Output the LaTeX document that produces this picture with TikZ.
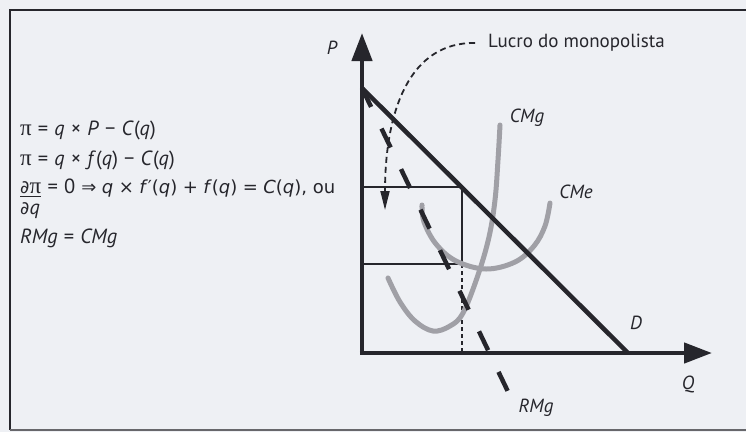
\documentclass[tikz,border=0pt]{standalone}
\usepackage{fontspec}
\setmainfont{PT Sans}
\newfontfamily\gk{Liberation Serif}
\newfontfamily\sym{DejaVu Sans}
\usetikzlibrary{arrows.meta}
\definecolor{bg}{RGB}{238,240,244}
\definecolor{ink}{RGB}{38,38,44}
\definecolor{curvegray}{RGB}{160,160,166}
\newcommand\myop[1]{\hspace{0.3em}#1\hspace{0.3em}}
\begin{document}
\begin{tikzpicture}[x=1pt,y=-1pt,
  lbl/.style={font=\fontsize{19}{22}\selectfont\itshape, text=ink, inner sep=0pt},
  eq/.style={font=\fontsize{20.5}{24}\selectfont, text=ink, inner sep=0pt, anchor=base west},
  axisline/.style={line width=4.5pt, draw=ink, -{Triangle[width=20pt,length=28pt]}},
  thickline/.style={line width=4.5pt, draw=ink},
  thinline/.style={line width=1.4pt, draw=ink},
  costcurve/.style={line width=5pt, draw=curvegray, line cap=round}]
\useasboundingbox (0,0) rectangle (746,432);
\fill[bg] (0,0) rectangle (746,432);
% frame
\draw[ink, line width=1.8pt] (746,10) -- (10,10) -- (10,430);
\draw[ink!70, line width=1.8pt] (10,430) -- (746,430);

% equations
\node[eq] (l1) at (20,135) {{\gk\fontsize{23}{24}\selectfont π}\myop{=}\textit{q}\myop{×}\textit{P}\myop{−}\textit{C}(\textit{q})};
\node[eq] (l2) at (20,165) {{\gk\fontsize{23}{24}\selectfont π}\myop{=}\textit{q}\myop{×}\textit{f}(\textit{q})\myop{−}\textit{C}(\textit{q})};
\node[eq] (dpi) at (20,193) {{\sym\fontsize{18}{24}\selectfont ∂}{\gk\fontsize{23}{24}\selectfont π}};
\draw[ink, line width=1.1pt] ([yshift=-3.5pt]dpi.base west) -- ([yshift=-3.5pt]dpi.base east);
\node[eq] (l3) at (dpi.base east) {\myop{=}0\myop{\sym\fontsize{18}{24}\selectfont ⇒}\textit{q}\myop{×}\textit{f}{\sym ′}(\textit{q})\myop{+}\textit{f}(\textit{q})\myop{=}\textit{C}(\textit{q}), ou};
\node[eq] (dq) at (20,214) {{\sym\fontsize{18}{24}\selectfont ∂}\textit{q}};
\node[eq] (l4) at (20,243) {\textit{RMg}\myop{=}\textit{CMg}};

% coordinates
\coordinate (O) at (362,353);
\coordinate (Ptop) at (362,33);
\coordinate (Qend) at (712,353);
\coordinate (Dtop) at (362,88);
\coordinate (Dbot) at (628,353);
\coordinate (Rend) at (512,400);

% profit rectangle
\draw[thinline] (362,187) -- (462,187) -- (462,264);
\draw[thinline] (362,264) -- (462,264);
\draw[thinline, line width=1.2pt, dash pattern=on 4pt off 3pt] (462,264) -- (462,353);

% cost curves
\draw[costcurve] plot[smooth, tension=0.6] coordinates {(388,278) (400,302) (415,321) (433,331) (450,326) (463,313) (478,275) (489,237) (495,200) (498,160) (500,125)};
\draw[costcurve] plot[smooth, tension=0.6] coordinates {(422,205) (424,222) (436,244) (456,261) (486,269) (515,262) (534,246) (545,226) (550,203)};

% axes
\draw[axisline] (O) -- (Ptop);
\draw[axisline] ([xshift=-2.2pt]O) -- (Qend);

% demand and marginal revenue
\draw[thickline] (Dtop) -- (Dbot);
\draw[thickline, dash pattern=on 21pt off 24pt] (Dtop) -- (Rend);

% labels
\node[lbl] (P) at (332,48) {P};
\node[lbl] (Q) at (688,384) {Q};
\node[lbl] (D) at (636,323) {D};
\node[lbl] (cmg) at (527,118) {CMg};
\node[lbl] (cme) at (576,192) {CMe};
\node[lbl] (rmg) at (536,408) {RMg};
\node[font=\fontsize{19}{22}\selectfont, text=ink, inner sep=0pt, anchor=west] (lucro) at (488,43) {Lucro do monopolista};

% profit arrow
\coordinate (ls) at (475,43);
\coordinate (tip) at (385,210);
\draw[ink, line width=1.8pt, dash pattern=on 6pt off 4pt, -{Triangle[width=9pt,length=19pt]}]
  (ls) .. controls (410,42) and (385,110) .. (tip);
\end{tikzpicture}
\end{document}
